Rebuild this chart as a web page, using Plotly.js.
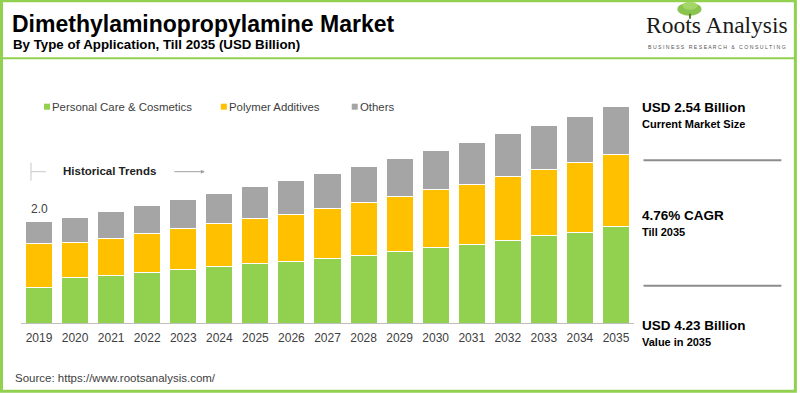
<!DOCTYPE html>
<html>
<head>
<meta charset="utf-8">
<script src="https://cdn.plot.ly/plotly-3.0.1.min.js"></script>
<style>html,body{margin:0;padding:0;background:#fff;}#chart{width:800px;height:393px;}</style>
</head>
<body>
<div id="chart"></div>
<script>
// ---- Data ----
const years = ['2019','2020','2021','2022','2023','2024','2025','2026','2027','2028','2029','2030','2031','2032','2033','2034','2035'];
const seriesNames = ['Personal Care & Cosmetics', 'Polymer Additives', 'Others'];
const personalCare = [0.70,0.89,0.93,0.99,1.04,1.10,1.16,1.21,1.26,1.33,1.39,1.47,1.54,1.62,1.71,1.78,1.88];
const polymerAdditives = [0.85,0.69,0.73,0.77,0.80,0.84,0.88,0.92,0.98,1.03,1.08,1.14,1.18,1.24,1.29,1.36,1.41];
const others = [0.43,0.49,0.52,0.53,0.57,0.59,0.63,0.66,0.68,0.70,0.74,0.76,0.81,0.84,0.86,0.90,0.95];
const firstBarLabel = '2.0';
const kpis = [
  {big: 'USD 2.54 Billion', small: 'Current Market Size'},
  {big: '4.76% CAGR', small: 'Till 2035'},
  {big: 'USD 4.23 Billion', small: 'Value in 2035'}
];

// ---- Styling ----
const colors = ['#92D050', '#FFC000', '#A5A5A5'];
const FONT = 'Arial, "Liberation Sans", sans-serif';
const W = 800, H = 393;
const L = 21, R = 634.5, T = 88.3, B = 323.3;
const px = x => (x - L) / (R - L);
const py = y => (B - y) / (B - T);
const green = '#92D050';

const seriesVals = [personalCare, polymerAdditives, others];
const traces = seriesVals.map((vals, i) => ({
  type: 'bar', x: years, y: vals, name: seriesNames[i],
  marker: {color: colors[i], line: {color: '#FFFFFF', width: 1}},
  showlegend: false, hoverinfo: 'x+y+name'
}));

const total0 = personalCare[0] + polymerAdditives[0] + others[0];

const annotations = [];
const shapes = [];

// subtitle
annotations.push({xref:'paper', yref:'paper', x: px(11), y: py(45), xanchor:'left', yanchor:'middle',
  text:'<b>By Type of Application, Till 2035 (USD Billion)</b>', showarrow:false,
  font:{family:FONT, size:13.3, color:'#000'}});

// legend (manual)
const legX = [44, 221, 352];
seriesNames.forEach((n, i) => {
  shapes.push({type:'rect', xref:'paper', yref:'paper', x0: px(legX[i]), x1: px(legX[i]+6), y0: py(110), y1: py(104),
    fillcolor: colors[i], line:{width:0}});
  annotations.push({xref:'paper', yref:'paper', x: px(legX[i]+6), y: py(107), xanchor:'left', yanchor:'middle',
    text: n, showarrow:false, font:{family:FONT, size:11.4, color:'#404040'}});
});

// historical trends
shapes.push({type:'line', xref:'paper', yref:'paper', x0: px(31), x1: px(31), y0: py(163), y1: py(181), line:{color:'#C8C8C8', width:1}});
shapes.push({type:'line', xref:'paper', yref:'paper', x0: px(31), x1: px(46), y0: py(172), y1: py(172), line:{color:'#C8C8C8', width:1}});
annotations.push({xref:'paper', yref:'paper', x: px(61), y: py(171.5), xanchor:'left', yanchor:'middle',
  text:'<b>Historical Trends</b>', showarrow:false, font:{family:FONT, size:11.5, color:'#222'}});
annotations.push({xref:'paper', yref:'paper', x: px(205), y: py(172), ax: -32, ay: 0, text:'', showarrow:true,
  arrowhead: 2, arrowsize: 0.8, arrowwidth: 1, arrowcolor:'#A0A0A0'});

// first bar label (category index 0)
annotations.push({xref:'x', yref:'y', x: 0, y: total0, yshift: 13, xanchor:'center', yanchor:'middle',
  text: firstBarLabel, showarrow:false, font:{family:FONT, size:12, color:'#404040'}});

// KPI panel
const kpiY = [108, 216, 326];
kpis.forEach((k, i) => {
  annotations.push({xref:'paper', yref:'paper', x: px(641), y: py(kpiY[i]), xanchor:'left', yanchor:'middle',
    text:'<b>'+k.big+'</b>', showarrow:false, font:{family:FONT, size:13.5, color:'#000'}});
  annotations.push({xref:'paper', yref:'paper', x: px(641), y: py(kpiY[i]+16), xanchor:'left', yanchor:'middle',
    text:'<b>'+k.small+'</b>', showarrow:false, font:{family:FONT, size:11, color:'#000'}});
});
[160.5, 286].forEach(yy => shapes.push({type:'line', xref:'paper', yref:'paper', x0: px(644), x1: px(782), y0: py(yy), y1: py(yy),
  line:{color:'#8C8C8C', width:2}}));

// source
annotations.push({xref:'paper', yref:'paper', x: px(13), y: py(378), xanchor:'left', yanchor:'middle',
  text:'Source: https://www.rootsanalysis.com/', showarrow:false, font:{family:FONT, size:11.5, color:'#404040'}});

// logo
annotations.push({xref:'paper', yref:'paper', x: px(718), y: py(25), xanchor:'center', yanchor:'middle',
  text:'Roots Analysis', showarrow:false, font:{family:'"Liberation Serif", "Times New Roman", serif', size:23.5, color:'#1a1a1a'}});
annotations.push({xref:'paper', yref:'paper', x: px(718), y: py(47), xanchor:'center', yanchor:'middle',
  text:'B U S I N E S S   R E S E A R C H   &amp;   C O N S U L T I N G', showarrow:false, font:{family:FONT, size:5.2, color:'#555'}});
shapes.push({type:'circle', xref:'paper', yref:'paper', x0: px(678), x1: px(702), y0: py(3), y1: py(16),
  fillcolor:'#7DBE3C', line:{width:0}, opacity:0.9});
shapes.push({type:'circle', xref:'paper', yref:'paper', x0: px(683), x1: px(698), y0: py(2), y1: py(10),
  fillcolor:'#A6D86A', line:{width:0}, opacity:0.9});
shapes.push({type:'line', xref:'paper', yref:'paper', x0: px(690.5), x1: px(690.5), y0: py(14), y1: py(19),
  line:{color:'#5A7F2A', width:2}});

// title underline and border
shapes.push({type:'line', xref:'paper', yref:'paper', x0: px(2), x1: px(797), y0: py(58.5), y1: py(58.5), line:{color:green, width:2}});
shapes.push({type:'rect', xref:'paper', yref:'paper', x0: px(1.5), x1: px(796), y0: py(1), y1: py(391.5), line:{color:green, width:3}});

const layout = {
  width: W, height: H, autosize: false,
  paper_bgcolor:'#FFFFFF', plot_bgcolor:'#FFFFFF',
  margin: {l: L, r: W - R, t: T, b: H - B, pad: 0},
  barmode: 'stack', bargap: 0.25,
  showlegend: false,
  title: {text:'<b>Dimethylaminopropylamine Market</b>', xref:'container', yref:'container',
    x: 12/W, xanchor:'left', y: 1 - 24/H, yanchor:'middle', font:{family:FONT, size:23, color:'#000'}},
  xaxis: {type:'category', range:[-0.5, years.length - 0.5], showline:true, linecolor:'#BFBFBF', linewidth:1,
    ticks:'', ticklabelstandoff: 4, showgrid:false, zeroline:false, tickfont:{family:FONT, size:12, color:'#404040'}, fixedrange:true},
  yaxis: {range:[0, (B - T) / 51.1], visible:false, showgrid:false, zeroline:false, fixedrange:true},
  annotations, shapes
};

Plotly.newPlot('chart', traces, layout, {displayModeBar:false, staticPlot:true});
</script>
</body>
</html>
